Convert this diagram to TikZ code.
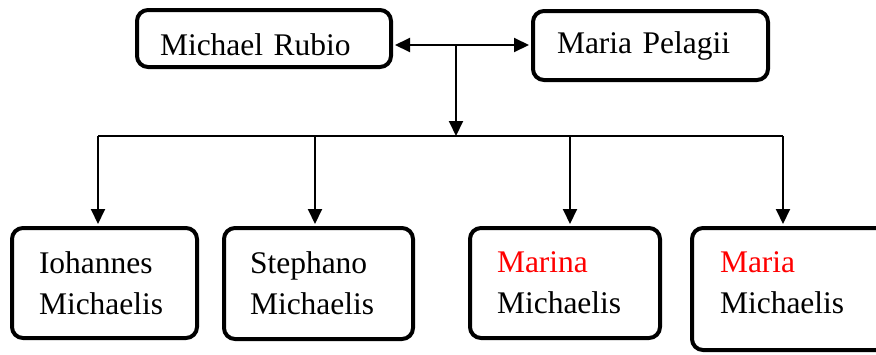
\documentclass[tikz,border=0pt]{standalone}
\usepackage{fontspec}
\setmainfont{Liberation Serif}
\newfontfamily\namefont{Liberation Serif}
\usetikzlibrary{arrows.meta}
\begin{document}
\begin{tikzpicture}[x=1pt,y=-1pt,
  box/.style={draw, line width=4pt, rounded corners=11pt, align=left,
    font=\namefont\fontsize{31.5}{41}\selectfont, inner ysep=0pt},
  link/.style={line width=2pt},
  bus/.style={line width=1.5pt},
  tip/.style={-{Triangle[length=15pt,width=14pt]}},
  dtip/.style={{Triangle[length=15pt,width=14pt]}-{Triangle[length=15pt,width=14pt]}}]
\useasboundingbox (0,0) rectangle (876,354);
% parents
\node[box, minimum width=254pt, minimum height=57pt, inner xsep=23pt,
  text width=208pt, text height=33pt, text depth=0pt] (mr) at (264,38.5) {Michael Rubio};
\node[box, minimum width=235pt, minimum height=69pt, inner xsep=24pt,
  text width=187pt] (mp) at (650.5,45.5) {Maria Pelagii};
% children
\node[box, minimum width=185pt, minimum height=110pt, inner xsep=27pt,
  text width=131pt] (b1) at (104.5,283) {Iohannes\\Michaelis};
\node[box, minimum width=189pt, minimum height=111pt, inner xsep=26pt,
  text width=137pt] (b2) at (318.5,283.5) {Stephano\\Michaelis};
\node[box, minimum width=190pt, minimum height=110pt, inner xsep=27pt,
  text width=136pt] (b3) at (565,283) {\textcolor{red}{Marina}\\Michaelis};
\node[box, minimum width=195pt, minimum height=122pt, inner xsep=28pt,
  text width=139pt, text depth=54pt] (b4) at (789.5,289) {\textcolor{red}{Maria}\\Michaelis};
% connectors
\coordinate (j) at (456,45);
\coordinate (bj) at (456,136);
\coordinate (c1) at (98,136);
\coordinate (c2) at (315,136);
\coordinate (c3) at (570,136);
\coordinate (c4) at (783,136);
\draw[link, dtip, shorten <=2pt, shorten >=2pt] (j -| mr.east) -- (j -| mp.west);
\draw[link, tip] (j) -- (bj);
\draw[bus] (c1) -- (c4);
\foreach \i in {1,2,3,4}
  \draw[link, tip, shorten >=2pt] (c\i) -- (c\i |- b\i.north);
\end{tikzpicture}
\end{document}
